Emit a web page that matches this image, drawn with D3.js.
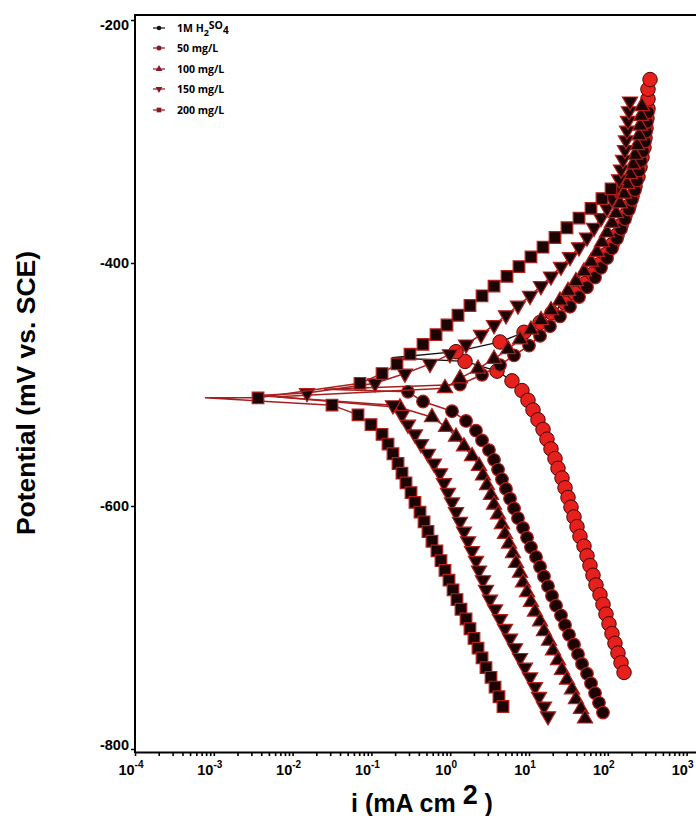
<!DOCTYPE html>
<html><head><meta charset="utf-8">
<script src="https://cdn.jsdelivr.net/npm/d3@7"></script>
<style>body{margin:0;background:#fff}svg{display:block}</style>
</head><body><svg id="c" width="696" height="816"></svg>
<script>
// ---------- data (potential in mV vs SCE, log10 of current density in mA cm^-2) ----------
const seriesNames = ["1M H2SO4", "50 mg/L", "100 mg/L", "150 mg/L", "200 mg/L"];
const xTickExponents = [-4, -3, -2, -1, 0, 1, 2, 3];
const yTickValues = [-200, -400, -600, -800];

const blankCathE = [-481,-489,-497,-505,-513,-521,-529,-537,-545,-553,-561,-569,-577,-585,-593,-601,-609,-617,-625,-633,-641,-649,-657,-665,-673,-681,-689,-697,-705,-713,-721,-729,-737];
const blankCathLogI = [0.188,0.594,0.784,0.911,0.987,1.051,1.114,1.178,1.228,1.279,1.330,1.368,1.419,1.457,1.495,1.533,1.571,1.609,1.647,1.698,1.736,1.774,1.812,1.850,1.901,1.939,1.977,2.015,2.053,2.091,2.129,2.168,2.206];
const blankAnodE = [-473,-465,-457,-449,-441,-433,-425,-417,-409,-401,-393,-385,-377,-369,-361,-353,-345,-337,-329,-321,-313,-305,-297,-289,-281,-273,-265,-257,-249];
const blankAnodLogI = [0.074,0.632,0.937,1.140,1.292,1.457,1.584,1.711,1.812,1.901,1.977,2.053,2.117,2.168,2.218,2.269,2.307,2.345,2.383,2.409,2.434,2.459,2.472,2.485,2.497,2.510,2.510,2.510,2.536];
const blankTailE = [-478];
const blankTailLogI = [-0.74];

const c50CathE = [-506,-514,-522,-530,-538,-546,-554,-562,-570,-578,-586,-594,-602,-610,-618,-626,-634,-642,-650,-658,-666,-674,-682,-690,-698,-706,-714,-722,-730,-738,-746,-754,-762,-770];
const c50CathLogI = [-0.536,-0.345,0.023,0.201,0.327,0.404,0.492,0.556,0.607,0.657,0.708,0.759,0.810,0.860,0.924,0.975,1.025,1.089,1.140,1.190,1.241,1.292,1.343,1.406,1.457,1.508,1.571,1.622,1.673,1.736,1.787,1.838,1.888,1.939];
const c50AnodE = [-500,-492,-484,-476,-468,-460,-452,-444,-436,-428,-420,-412,-404,-396,-388,-380,-372,-364,-356,-348,-340,-332,-324,-316,-308,-300,-292,-284,-276];
const c50AnodLogI = [0.124,0.404,0.632,0.810,1.000,1.140,1.266,1.393,1.520,1.635,1.736,1.838,1.914,1.990,2.053,2.117,2.168,2.218,2.269,2.307,2.345,2.371,2.396,2.421,2.447,2.472,2.485,2.497,2.510];
const c50TailE = [-504];
const c50TailLogI = [-1.6];

const c100CathE = [-519,-527,-535,-543,-551,-559,-567,-575,-583,-591,-599,-607,-615,-623,-631,-639,-647,-655,-663,-671,-679,-687,-695,-703,-711,-719,-727,-735,-743,-751,-759,-767,-775];
const c100CathLogI = [-0.637,-0.231,-0.053,0.074,0.175,0.277,0.365,0.416,0.467,0.518,0.556,0.607,0.657,0.695,0.746,0.797,0.835,0.886,0.924,0.975,1.025,1.076,1.140,1.190,1.254,1.305,1.368,1.419,1.482,1.546,1.596,1.660,1.711];
const c100AnodE = [-503,-495,-487,-479,-471,-463,-455,-447,-439,-431,-423,-415,-407,-399,-391,-383,-375,-367,-359,-351,-343,-335,-327,-319,-311,-303,-295,-287,-279,-271];
const c100AnodLogI = [-0.066,0.124,0.353,0.556,0.734,0.886,1.025,1.152,1.279,1.393,1.495,1.596,1.698,1.787,1.863,1.926,1.990,2.053,2.104,2.155,2.206,2.244,2.282,2.320,2.345,2.371,2.396,2.409,2.421,2.434];
const c100TailE = [-510];
const c100TailLogI = [-2.2];

const c150CathE = [-517,-525,-533,-541,-549,-557,-565,-573,-581,-589,-597,-605,-613,-621,-629,-637,-645,-653,-661,-669,-677,-685,-693,-701,-709,-717,-725,-733,-741,-749,-757,-765,-773];
const c150CathLogI = [-0.726,-0.612,-0.536,-0.447,-0.371,-0.282,-0.206,-0.129,-0.079,-0.028,0.023,0.074,0.124,0.175,0.226,0.277,0.327,0.365,0.416,0.454,0.505,0.569,0.632,0.695,0.759,0.822,0.886,0.949,1.013,1.076,1.127,1.190,1.241];
const c150AnodE = [-507,-499,-491,-483,-475,-467,-459,-451,-443,-435,-427,-419,-411,-403,-395,-387,-379,-371,-363,-355,-347,-339,-331,-323,-315,-307,-299,-291,-283,-275,-267];
const c150AnodLogI = [-1.817,-0.954,-0.574,-0.256,-0.003,0.201,0.391,0.556,0.708,0.860,1.013,1.152,1.279,1.406,1.520,1.635,1.736,1.825,1.914,1.990,2.053,2.104,2.142,2.168,2.193,2.218,2.231,2.244,2.256,2.269,2.282];
const c150TailE = [-509];
const c150TailLogI = [-2.45];

const c200CathE = [-517,-525,-533,-541,-549,-557,-565,-573,-581,-589,-597,-605,-613,-621,-629,-637,-645,-653,-661,-669,-677,-685,-693,-701,-709,-717,-725,-733,-741,-749,-757,-765];
const c200CathLogI = [-1.500,-1.170,-1.005,-0.865,-0.789,-0.726,-0.662,-0.612,-0.561,-0.497,-0.447,-0.383,-0.332,-0.282,-0.231,-0.168,-0.117,-0.066,-0.015,0.036,0.086,0.137,0.201,0.251,0.302,0.353,0.404,0.454,0.518,0.569,0.619,0.670];
const c200AnodE = [-511,-499,-491,-483,-475,-467,-459,-451,-443,-435,-427,-419,-411,-403,-395,-387,-379,-371,-363,-355,-347,-339];
const c200AnodLogI = [-2.439,-1.145,-0.865,-0.675,-0.510,-0.345,-0.180,-0.041,0.099,0.251,0.404,0.556,0.721,0.873,1.025,1.178,1.330,1.482,1.635,1.787,1.926,2.041];
const c200TailE = [-511];
const c200TailLogI = [-3.112];

// ---------- build ----------
const zip = (E, L) => E.map((e, k) => ({E: e, i: Math.pow(10, L[k])}));
const raw = [
  [blankCathE, blankCathLogI, blankTailE, blankTailLogI, blankAnodE, blankAnodLogI],
  [c50CathE, c50CathLogI, c50TailE, c50TailLogI, c50AnodE, c50AnodLogI],
  [c100CathE, c100CathLogI, c100TailE, c100TailLogI, c100AnodE, c100AnodLogI],
  [c150CathE, c150CathLogI, c150TailE, c150TailLogI, c150AnodE, c150AnodLogI],
  [c200CathE, c200CathLogI, c200TailE, c200TailLogI, c200AnodE, c200AnodLogI]
];
const series = raw.map((r, s) => {
  const cath = zip(r[0], r[1]), tail = zip(r[2], r[3]), anod = zip(r[4], r[5]);
  return {name: seriesNames[s], line: cath.slice().reverse().concat(tail, anod), marks: cath.concat(anod)};
});

const styles = [
  {sym: d3.symbolCircle, size: 165, fill: "#e5201d", stroke: "#4a0505", sw: 1, line: "#111", lw: 1.3, rot: 0},
  {sym: d3.symbolCircle, size: 125, fill: "#1c0404", stroke: "#b3201c", sw: 1.2, line: "#a81f1f", lw: 1.5, rot: 0},
  {sym: d3.symbolTriangle, size: 100, fill: "#1c0404", stroke: "#b3201c", sw: 1.2, line: "#a81f1f", lw: 1.5, rot: 0},
  {sym: d3.symbolTriangle, size: 100, fill: "#1c0404", stroke: "#b3201c", sw: 1.2, line: "#a81f1f", lw: 1.5, rot: 180},
  {sym: d3.symbolSquare, size: 135, fill: "#1c0404", stroke: "#b3201c", sw: 1.2, line: "#a81f1f", lw: 1.5, rot: 0}
];

const svg = d3.select("#c");
const X0 = 135, YT = 15, YB = 752;
const x = d3.scaleLog().domain([1e-4, Math.pow(10, 3.14)]).range([X0, X0 + 7.14 * 78.8]);
const y = d3.scaleLinear().domain([-800, -200]).range([749, 20]);
const FONT = "Liberation Sans, Arial, sans-serif";

const plot = svg.append("g");
const lineGen = d3.line().x(d => x(d.i)).y(d => y(d.E)).curve(d3.curveLinear);

series.forEach((s, k) => {
  const st = styles[k];
  const g = plot.append("g");
  g.append("path").attr("d", lineGen(s.line)).attr("fill", "none").attr("stroke", st.line).attr("stroke-width", st.lw);
  g.selectAll("path.m").data(s.marks).join("path").attr("class", "m")
    .attr("d", d3.symbol().type(st.sym).size(st.size))
    .attr("transform", d => `translate(${x(d.i)},${y(d.E)}) rotate(${st.rot})`)
    .attr("fill", st.fill).attr("stroke", st.stroke).attr("stroke-width", st.sw);
});

// frame
svg.append("line").attr("x1", X0).attr("x2", 696).attr("y1", YT).attr("y2", YT).attr("stroke", "#000").attr("stroke-width", 2);
svg.append("line").attr("x1", X0).attr("x2", X0).attr("y1", YT - 1).attr("y2", YB + 1).attr("stroke", "#000").attr("stroke-width", 2);

// x axis
const minorVals = [];
xTickExponents.forEach(e => { for (let m = 1; m <= 9; m++) { const v = m * Math.pow(10, e); if (v <= Math.pow(10, 3.14)) minorVals.push(v); } });
const xAxis = d3.axisBottom(x).tickValues(minorVals).tickFormat("").tickSize(4).tickSizeOuter(0);
const gx = svg.append("g").attr("transform", `translate(0,${YB})`).call(xAxis);
gx.select(".domain").attr("stroke-width", 2.2);
gx.selectAll(".tick line").attr("stroke-width", 1.6);
const xl = svg.append("g").attr("font-family", FONT).attr("font-weight", "bold");
xTickExponents.forEach(e => {
  const t = xl.append("text").attr("x", x(Math.pow(10, e)) - 4).attr("y", 775).attr("text-anchor", "middle").attr("font-size", 14.5);
  t.append("tspan").text("10");
  t.append("tspan").attr("dy", -7).attr("font-size", 10).text(String(e));
});

// y axis
const yAxis = d3.axisLeft(y).tickValues(yTickValues).tickSize(4).tickFormat(d => d);
const gy = svg.append("g").attr("transform", `translate(${X0},0)`).call(yAxis);
gy.select(".domain").remove();
gy.selectAll(".tick line").attr("stroke-width", 1.5);
gy.selectAll(".tick text").attr("font-family", FONT).attr("font-weight", "bold").attr("font-size", 14.5).attr("fill", "#000").attr("x", -6)
  .attr("dy", d => d === -200 ? "0.62em" : d === -800 ? "0.05em" : "0.32em");

// axis titles
svg.append("text").attr("transform", "translate(35,393) rotate(-90)").attr("text-anchor", "middle")
  .attr("font-family", FONT).attr("font-weight", "bold").attr("font-size", 26.5).text("Potential (mV vs. SCE)");
const xt = svg.append("text").attr("x", 422).attr("y", 812).attr("text-anchor", "middle")
  .attr("font-family", FONT).attr("font-weight", "bold").attr("font-size", 25);
xt.append("tspan").text("i  (mA cm ");
xt.append("tspan").attr("dy", -8).attr("font-size", 27).text("2");
xt.append("tspan").attr("dy", 8).text(" )");

// legend
const leg = svg.append("g").attr("font-family", "Open Sans, sans-serif").attr("font-weight", "bold").attr("font-size", 10.5);
const legY = [28, 48, 69, 89, 110];
const legStyles = [
  {sym: d3.symbolCircle, size: 16, fill: "#111", line: "#111", rot: 0},
  {sym: d3.symbolCircle, size: 20, fill: "#8e1522", line: "#8e1522", rot: 0},
  {sym: d3.symbolTriangle, size: 20, fill: "#8e1522", line: "#8e1522", rot: 0},
  {sym: d3.symbolTriangle, size: 20, fill: "#8e1522", line: "#8e1522", rot: 180},
  {sym: d3.symbolSquare, size: 22, fill: "#8e1522", line: "#8e1522", rot: 0}
];
seriesNames.forEach((n, k) => {
  const ls = legStyles[k];
  leg.append("line").attr("x1", 153).attr("x2", 165).attr("y1", legY[k]).attr("y2", legY[k]).attr("stroke", ls.line).attr("stroke-width", 1.2);
  leg.append("path").attr("d", d3.symbol().type(ls.sym).size(ls.size)).attr("transform", `translate(159,${legY[k]}) rotate(${ls.rot})`).attr("fill", ls.fill);
  const t = leg.append("text").attr("x", 177).attr("y", legY[k] + 4);
  if (k === 0) {
    t.append("tspan").text("1M H");
    t.append("tspan").attr("dy", 4).attr("font-size", 9).text("2");
    t.append("tspan").attr("dy", -7).text("SO");
    t.append("tspan").attr("dy", 5).attr("font-size", 10).text("4");
  } else t.text(n);
});
</script>
</body></html>
